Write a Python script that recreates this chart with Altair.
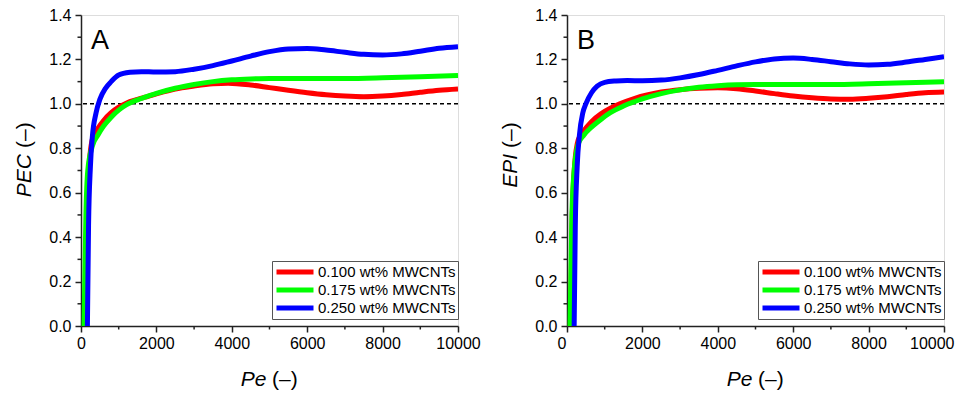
import altair as alt
import pandas as pd

FONT = "Arial, Liberation Sans, sans-serif"

LABELS = ["0.100 wt% MWCNTs", "0.175 wt% MWCNTs", "0.250 wt% MWCNTs"]
COLORS = ["#ff0000", "#00ff00", "#0000ff"]

X_TICKS = [0, 2000, 4000, 6000, 8000, 10000]
X_MINOR = [1000, 3000, 5000, 7000, 9000]
Y_TICKS = [0.0, 0.2, 0.4, 0.6, 0.8, 1.0, 1.2, 1.4]
Y_MINOR = [0.1, 0.3, 0.5, 0.7, 0.9, 1.1, 1.3]

# ---- Panel A (PEC) ----
A_red_pe = [100, 150, 200, 300, 450, 600, 800, 1000, 1200, 1500, 1700, 2000, 2500, 3000, 3500, 3900,
            4500, 5000, 5500, 6000, 6500, 7000, 7500, 8000, 8500, 9000, 9500, 10000]
A_red_v = [0.0, 0.45, 0.68, 0.84, 0.89, 0.925, 0.96, 0.985, 1.003, 1.02, 1.03, 1.045, 1.067, 1.08, 1.09, 1.093,
           1.085, 1.073, 1.061, 1.05, 1.041, 1.035, 1.032, 1.035, 1.042, 1.052, 1.061, 1.067]
A_grn_pe = [80, 130, 180, 300, 450, 600, 800, 1000, 1200, 1500, 1700, 2000, 2500, 3000, 3500, 4000, 4500,
            5000, 6000, 7000, 8000, 9000, 10000]
A_grn_v = [0.0, 0.5, 0.7, 0.81, 0.86, 0.9, 0.94, 0.972, 0.995, 1.018, 1.03, 1.047, 1.07, 1.087, 1.1, 1.108, 1.112,
           1.114, 1.114, 1.114, 1.117, 1.122, 1.128]
A_blu_pe = [170, 200, 250, 300, 400, 500, 650, 800, 1000, 1300, 1600, 2000, 2500, 3000, 3500, 4000,
            4500, 5000, 5500, 6000, 6500, 7000, 7500, 8000, 8500, 9000, 9500, 10000]
A_blu_v = [0.0, 0.45, 0.72, 0.85, 0.96, 1.02, 1.07, 1.1, 1.13, 1.142, 1.145, 1.143, 1.145, 1.156,
           1.172, 1.193, 1.215, 1.235, 1.247, 1.249, 1.242, 1.232, 1.223, 1.22, 1.225, 1.237, 1.25, 1.257]

# ---- Panel B (EPI) ----
B_red_pe = [90, 140, 200, 300, 450, 650, 900, 1150, 1400, 1800, 2500, 3000, 3500, 4000, 4500, 5000,
            5500, 6000, 6500, 7000, 7500, 8000, 8500, 9000, 9500, 10000]
B_red_v = [0.0, 0.5, 0.72, 0.84, 0.88, 0.92, 0.955, 0.98, 1.0, 1.025, 1.053, 1.064, 1.07, 1.072, 1.068,
           1.058, 1.046, 1.035, 1.027, 1.022, 1.021, 1.025, 1.032, 1.042, 1.05, 1.053]
B_grn_pe = [80, 130, 190, 300, 450, 650, 900, 1150, 1500, 2000, 2500, 3000, 3500, 4000, 4500, 5000,
            6000, 7000, 8000, 9000, 10000]
B_grn_v = [0.0, 0.5, 0.7, 0.82, 0.86, 0.895, 0.93, 0.96, 0.99, 1.022, 1.046, 1.063, 1.075, 1.082, 1.086,
           1.087, 1.087, 1.087, 1.09, 1.095, 1.1]
B_blu_pe = [190, 220, 270, 330, 420, 500, 650, 800, 1000, 1300, 1600, 2000, 2500, 3000, 3500, 4000,
            4500, 5000, 5500, 6000, 6500, 7000, 7500, 8000, 8500, 9000, 9500, 10000]
B_blu_v = [0.0, 0.45, 0.72, 0.86, 0.96, 1.0, 1.05, 1.08, 1.097, 1.103, 1.105, 1.104, 1.107, 1.117,
           1.132, 1.151, 1.171, 1.189, 1.202, 1.206, 1.2, 1.19, 1.18, 1.175, 1.178, 1.188, 1.2, 1.212]

W, H = 377, 311


def make_df(curves):
    rows = []
    for lab, (pes, vals) in zip(LABELS, curves):
        for p, v in zip(pes, vals):
            rows.append({"series": lab, "Pe": p, "val": v})
    return pd.DataFrame(rows)


def text_layer(txt, x, y, size, style="normal", align="left", angle=0):
    return alt.Chart(pd.DataFrame({"t": [txt]})).mark_text(
        align=align, baseline="alphabetic", fontSize=size, font=FONT,
        fontStyle=style, angle=angle, color="black"
    ).encode(x=alt.value(x), y=alt.value(y), text="t:N")


AX_STYLE = dict(labelFont=FONT, labelFontSize=16, labelColor="black", tickColor="#222",
                tickWidth=1.5, domainColor="#222", domainWidth=1.5, grid=False, title=None,
                labelOverlap=False)


def panel(curves, ylab, letter, flush):
    df = make_df(curves)
    xsc = alt.Scale(domain=[0, 10000], nice=False, zero=False)
    ysc = alt.Scale(domain=[0, 1.4], nice=False)
    if flush:
        xax = alt.Axis(values=X_TICKS, format="d", tickSize=6, labelPadding=3,
                       labelFlush=True, labelFlushOffset=10, **AX_STYLE)
    else:
        xax = alt.Axis(values=X_TICKS, format="d", tickSize=6, labelPadding=3,
                       labelFlush=False, **AX_STYLE)
    yax = alt.Axis(values=Y_TICKS, format=".1f", tickSize=6, labelPadding=4, labelFlush=False, **AX_STYLE)

    dash = alt.Chart(pd.DataFrame({"val": [1.0]})).mark_rule(
        strokeDash=[4, 3], strokeWidth=1.5, color="black"
    ).encode(y=alt.Y("val:Q", scale=ysc, axis=yax))

    lines = alt.Chart(df).mark_line(strokeWidth=5, interpolate="monotone", clip=True).encode(
        x=alt.X("Pe:Q", scale=xsc, axis=xax),
        y=alt.Y("val:Q", scale=ysc, axis=yax),
        color=alt.Color(
            "series:N",
            scale=alt.Scale(domain=LABELS, range=COLORS),
            legend=alt.Legend(
                title=None, orient="none", legendX=191, legendY=H - 65,
                symbolType="stroke", symbolStrokeWidth=5, symbolSize=1369,
                symbolOpacity=1, labelFontSize=15, labelFont=FONT, labelColor="black",
                strokeColor="#555", fillColor="white", padding=2, rowPadding=0,
                clipHeight=18, labelOffset=2, labelLimit=300,
            ),
        ),
    )

    xminor = alt.Chart(pd.DataFrame({"Pe": X_MINOR})).mark_rule(color="#222", strokeWidth=1.5).encode(
        x=alt.X("Pe:Q", scale=xsc, axis=xax), y=alt.value(H), y2=alt.value(H + 3.5)
    )
    yminor = alt.Chart(pd.DataFrame({"val": Y_MINOR})).mark_rule(color="#222", strokeWidth=1.5).encode(
        y=alt.Y("val:Q", scale=ysc, axis=yax), x=alt.value(0), x2=alt.value(-3.5)
    )

    layers = [
        dash, lines, xminor, yminor,
        text_layer(letter, 10, 34, 27),
        text_layer(ylab, -50, H - 172, 21, style="italic", align="right", angle=270),
        text_layer("(\u2013)", -50, H - 178, 21, align="left", angle=270),
        text_layer("Pe", 185.5, H + 60, 21, style="italic", align="right"),
        text_layer("(\u2013)", 191, H + 60, 21, align="left"),
    ]
    return alt.layer(*layers).properties(width=W, height=H)


pA = panel([(A_red_pe, A_red_v), (A_grn_pe, A_grn_v), (A_blu_pe, A_blu_v)], "PEC", "A", False)
pB = panel([(B_red_pe, B_red_v), (B_grn_pe, B_grn_v), (B_blu_pe, B_blu_v)], "EPI", "B", True)

chart = alt.hconcat(pA, pB, spacing=18).resolve_scale(color="independent").properties(
    padding={"top": -2, "left": 5, "right": 0, "bottom": 0}
).configure_view(stroke="#222", strokeWidth=1.5).configure(background="white")

chart.save("out.html", embed_options={"renderer": "svg", "actions": False})
